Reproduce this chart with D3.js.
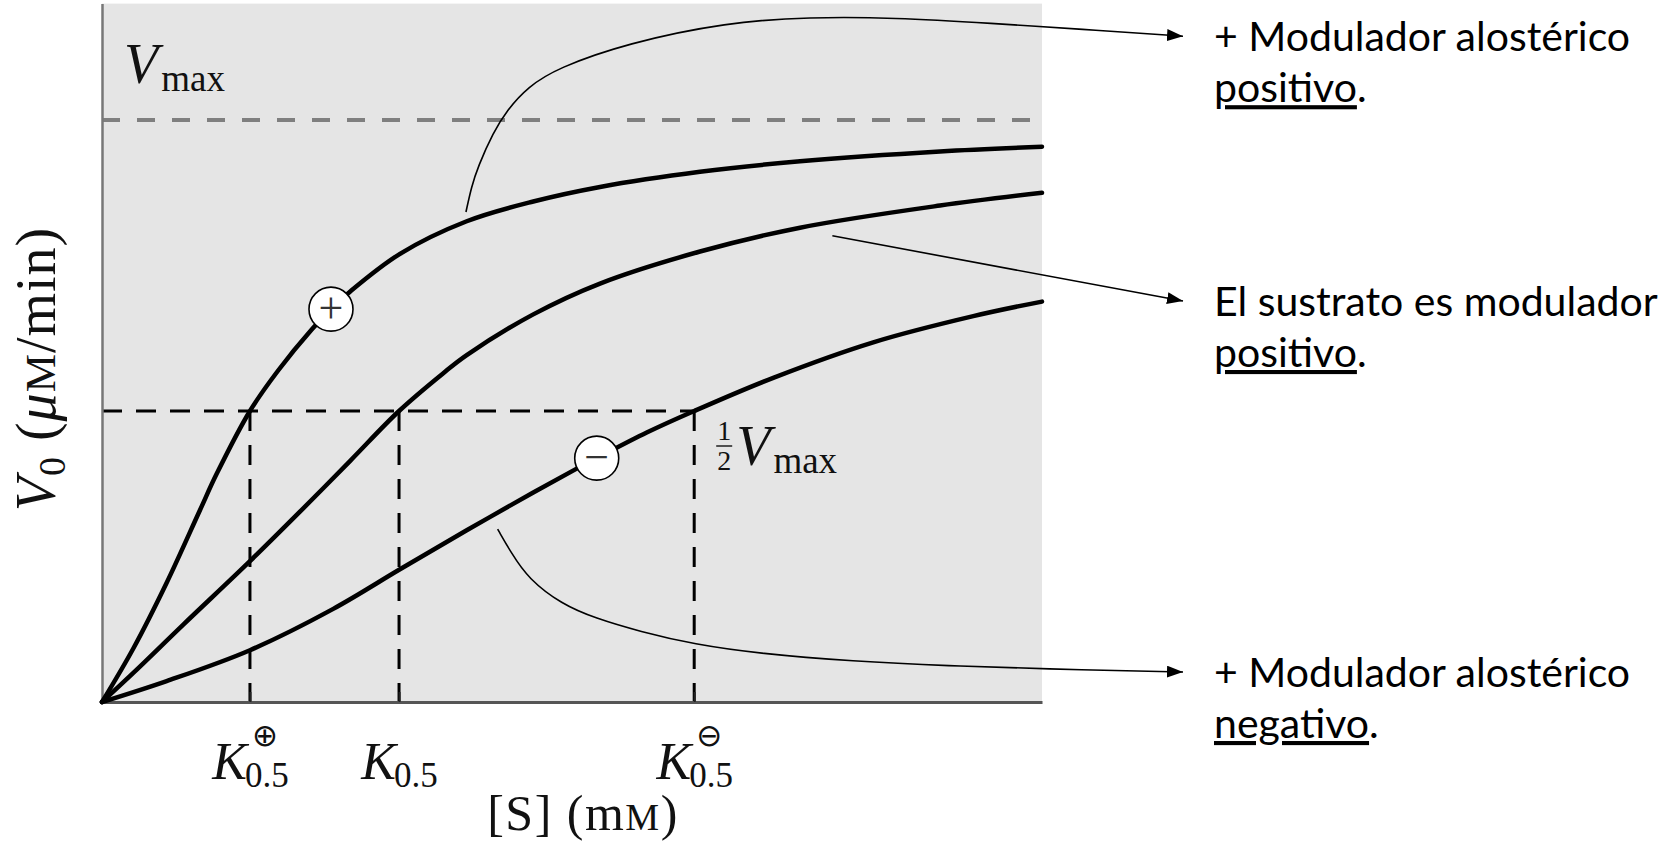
<!DOCTYPE html>
<html>
<head>
	<meta charset="utf-8" />
	<title>alosterica</title>
	<script src="https://cdn.jsdelivr.net/npm/d3@7/dist/d3.min.js" charset="utf-8"></script>
	<style>
	body { margin: 0; background: #fff; }
	.math { font-family: "Liberation Serif", "DejaVu Serif", serif; fill: #111; }
	.note { font-family: Lato, "Open Sans", sans-serif; fill: #000; }
	.curve { fill: none; stroke: #000; stroke-width: 4.5; stroke-linecap: round; }
	.leader { fill: none; stroke: #000; stroke-width: 1.6; }
	</style>
</head>
<body>

<div id="chart"></div>

<script>

// curves: [S] (arbitrary mM units) vs V0 as fraction of Vmax
const curve_pos = [[0,0],[0.333,0.092],[0.688,0.205],[1.043,0.33],[1.22,0.392],[1.574,0.5],
	[1.876,0.57],[2.231,0.64],[2.436,0.675],[2.638,0.705],[3.17,0.77],[3.88,0.826],
	[4.588,0.86],[5.298,0.885],[6.362,0.911],[7.426,0.929],[8.915,0.946],[10,0.954]];
const curve_sub = [[0,0],[0.333,0.05],[0.865,0.133],[1.574,0.242],[2.106,0.327],[2.638,0.414],
	[3.16,0.5],[3.631,0.565],[3.88,0.596],[4.588,0.666],[5.298,0.719],[6.362,0.774],
	[7.426,0.815],[8.915,0.853],[10,0.875]];
const curve_neg = [[0,0],[0.688,0.036],[1.574,0.089],[2.46,0.16],[3.17,0.228],[3.88,0.295],
	[4.588,0.36],[5.05,0.401],[5.263,0.419],[5.795,0.463],[6.3,0.5],[7.141,0.557],
	[8.205,0.618],[9.269,0.663],[10,0.688]];

// K0.5 values on the [S] axis and their superscripts
const k_values = [1.574, 3.16, 6.3];
const k_marks = ["\u2295", "", "\u2296"];

const v_max = 1;
const v_half = 0.5;

// circled signs sitting on the curves
const sign_s = [2.436, 5.263];
const sign_v = [0.675, 0.419];
const sign_txt = ["+", "\u2212"];

// leader lines to the notes, in data units (they run past the plot on the right)
const leader_top = [[3.872,0.842],[3.93,0.885],[4.0,0.920],[4.16,0.978],[4.309,1.017],[4.532,1.057],
	[4.84,1.089],[5.585,1.132],[6.649,1.168],[7.532,1.177],[8.415,1.176],[9.479,1.166],[10.404,1.156],[11.5,1.144]];
const leader_mid = [[7.77,0.801],[11.5,0.689]];
const leader_bot = [[4.209,0.297],[4.358,0.255],[4.535,0.212],[4.890,0.168],[5.245,0.144],[5.723,0.121],
	[6.298,0.099],[7.0,0.083],[7.979,0.07],[9.021,0.062],[9.989,0.057],[11.5,0.0515]];

const notes_line1 = ["+ Modulador alost\u00e9rico", "El sustrato es modulador", "+ Modulador alost\u00e9rico"];
const notes_line2 = ["positivo", "positivo", "negativo"];


let width = 1669, height = 849;

let x = d3.scaleLinear().domain([0, 10]).range([102, 1042]);
let y = d3.scaleLinear().domain([0, 1.2]).range([702, 3.6]);

let svg = d3.select("#chart")
	.append("svg")
	.attr("width", width)
	.attr("height", height);

let defs = svg.append("defs");
defs.append("marker")
	.attr("id", "head")
	.attr("markerUnits", "userSpaceOnUse")
	.attr("viewBox", "0 0 16 12")
	.attr("refX", 16).attr("refY", 6)
	.attr("markerWidth", 16).attr("markerHeight", 12)
	.attr("orient", "auto")
	.append("path")
	.attr("d", "M0,0 L16,6 L0,12 Z")
	.attr("fill", "#000");

// plot background
svg.append("rect")
	.attr("x", x(0))
	.attr("y", y(1.2))
	.attr("width", x(10) - x(0))
	.attr("height", y(0) - y(1.2))
	.attr("fill", "#e5e5e5");

// Vmax (gray dashed)
svg.append("line")
	.attr("x1", x(0)).attr("x2", x(10))
	.attr("y1", y(v_max)).attr("y2", y(v_max))
	.attr("stroke", "#7f7f7f")
	.attr("stroke-width", 4)
	.attr("stroke-dasharray", "18,17");

// half Vmax and the K0.5 drop lines
svg.append("line")
	.attr("x1", x(0)).attr("x2", x(d3.max(k_values)))
	.attr("y1", y(v_half)).attr("y2", y(v_half))
	.attr("stroke", "#000")
	.attr("stroke-width", 3)
	.attr("stroke-dasharray", "20,14");

svg.append("g")
	.selectAll("line")
	.data(k_values)
	.enter().append("line")
	.attr("x1", d => x(d)).attr("x2", d => x(d))
	.attr("y1", y(v_half)).attr("y2", y(0))
	.attr("stroke", "#000")
	.attr("stroke-width", 3)
	.attr("stroke-dasharray", "20,14");

// axes
let x_axis = svg.append("g")
	.attr("transform", "translate(0," + y(0) + ")")
	.call(d3.axisBottom(x).tickValues(k_values).tickSizeInner(-10).tickSizeOuter(0).tickFormat(""));
x_axis.select(".domain").attr("stroke", "#555").attr("stroke-width", 3);
x_axis.selectAll(".tick line").attr("stroke", "#222").attr("stroke-width", 2);

let y_axis = svg.append("g")
	.attr("transform", "translate(" + x(0) + ",0)")
	.call(d3.axisLeft(y).tickValues([]).tickSizeOuter(0));
y_axis.select(".domain").attr("stroke", "#777").attr("stroke-width", 2.5);

// curves
let line = d3.line()
	.x(d => x(d[0]))
	.y(d => y(d[1]))
	.curve(d3.curveCatmullRom.alpha(0.5));

svg.append("g")
	.selectAll("path")
	.data([curve_pos, curve_sub, curve_neg])
	.enter().append("path")
	.attr("class", "curve")
	.attr("d", line);

// leaders with arrow heads
let leader = d3.line()
	.x(d => x(d[0]))
	.y(d => y(d[1]))
	.curve(d3.curveBasis);

svg.append("g")
	.selectAll("path")
	.data([leader_top, leader_mid, leader_bot])
	.enter().append("path")
	.attr("class", "leader")
	.attr("d", leader)
	.attr("marker-end", "url(#head)");

// circled signs
let signs = svg.append("g")
	.selectAll("g")
	.data(sign_s)
	.enter().append("g")
	.attr("transform", (d, i) => "translate(" + x(d) + "," + y(sign_v[i]) + ")");
signs.append("circle")
	.attr("r", 22)
	.attr("fill", "#fff")
	.attr("stroke", "#000")
	.attr("stroke-width", 1.6);
signs.append("text")
	.attr("class", "math")
	.attr("text-anchor", "middle")
	.attr("y", 14)
	.style("font-size", "44px")
	.style("fill", "#333")
	.text((d, i) => sign_txt[i]);

// K0.5 labels
let k_lab = svg.append("g")
	.selectAll("g")
	.data(k_values)
	.enter().append("g")
	.attr("transform", d => "translate(" + x(d) + ",0)");
k_lab.append("text")
	.attr("class", "math")
	.attr("text-anchor", "end")
	.attr("x", -3).attr("y", 779)
	.style("font-size", "52px")
	.style("font-style", "italic")
	.text("K");
k_lab.append("text")
	.attr("class", "math")
	.attr("x", -5).attr("y", 787)
	.style("font-size", "35px")
	.text("0.5");
k_lab.append("text")
	.attr("x", 15).attr("y", 735)
	.attr("text-anchor", "middle")
	.attr("dominant-baseline", "central")
	.style("font-family", "DejaVu Sans")
	.style("font-size", "31px")
	.style("fill", "#111")
	.text((d, i) => k_marks[i]);

// axis titles
let x_title = svg.append("text")
	.attr("class", "math")
	.attr("x", 583).attr("y", 830)
	.attr("text-anchor", "middle")
	.style("font-size", "50px")
	.style("letter-spacing", "1.5px");
x_title.append("tspan").text("[S] (m");
x_title.append("tspan").style("font-size", "38px").text("M");
x_title.append("tspan").text(")");

let y_title = svg.append("text")
	.attr("class", "math")
	.attr("transform", "translate(55,369) rotate(-90)")
	.attr("text-anchor", "middle")
	.style("font-size", "56px")
	.style("letter-spacing", "1px");
y_title.append("tspan").style("font-style", "italic").text("V");
y_title.append("tspan").attr("dy", 10).style("font-size", "38px").text("0");
y_title.append("tspan").attr("dy", -10).text(" (");
y_title.append("tspan").style("font-style", "italic").text("\u03bc");
y_title.append("tspan").style("font-size", "43px").text("M");
y_title.append("tspan").text("/min)");

// Vmax label
let vmax_lab = svg.append("text")
	.attr("class", "math")
	.attr("x", x(0) + 22).attr("y", y(v_max) - 37);
vmax_lab.append("tspan").style("font-size", "56px").style("font-style", "italic").text("V");
vmax_lab.append("tspan").attr("dy", 8).attr("dx", 3).style("font-size", "37px").text("max");

// 1/2 Vmax label
let half_x = x(d3.max(k_values)) + 30;
let half_y = y(v_half);
svg.append("text").attr("class", "math")
	.attr("x", half_x).attr("y", half_y + 29)
	.attr("text-anchor", "middle")
	.style("font-size", "28px").text("1");
svg.append("line")
	.attr("x1", half_x - 8).attr("x2", half_x + 8)
	.attr("y1", half_y + 35).attr("y2", half_y + 35)
	.attr("stroke", "#111").attr("stroke-width", 1.4);
svg.append("text").attr("class", "math")
	.attr("x", half_x).attr("y", half_y + 59)
	.attr("text-anchor", "middle")
	.style("font-size", "28px").text("2");
let half_lab = svg.append("text")
	.attr("class", "math")
	.attr("x", half_x + 12).attr("y", half_y + 54);
half_lab.append("tspan").style("font-size", "56px").style("font-style", "italic").text("V");
half_lab.append("tspan").attr("dy", 8).attr("dx", 3).style("font-size", "37px").text("max");

// notes on the right
let tips = [leader_top, leader_mid, leader_bot].map(d => d[d.length - 1]);
let notes = svg.append("g")
	.selectAll("text")
	.data(tips)
	.enter().append("text")
	.attr("class", "note")
	.style("font-size", "41px")
	.attr("x", d => x(d[0]) + 31)
	.attr("y", d => y(d[1]) + 15);
notes.append("tspan").text((d, i) => notes_line1[i]);
notes.append("tspan")
	.attr("x", d => x(d[0]) + 31)
	.attr("dy", 51)
	.style("text-decoration", "underline")
	.text((d, i) => notes_line2[i]);
notes.append("tspan").text(".");

</script>

</body>
</html>
